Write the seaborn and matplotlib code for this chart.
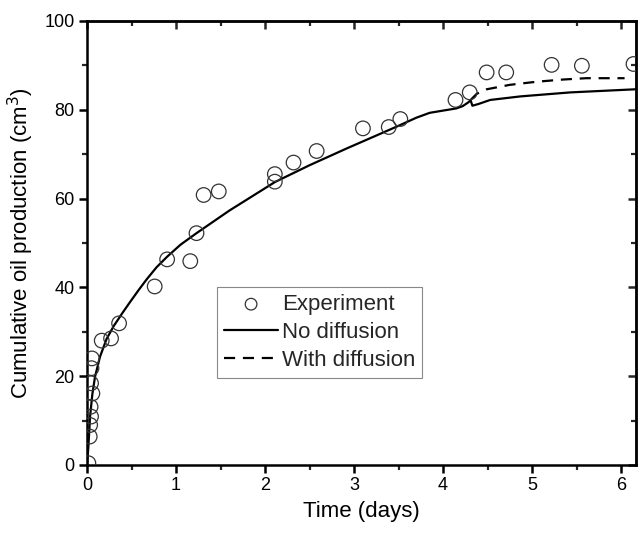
import numpy as np
import pandas as pd
import matplotlib
matplotlib.use("Agg")
import matplotlib.pyplot as plt
import seaborn as sns
from matplotlib.ticker import MultipleLocator

# Experimental data
exp_time = [0.015, 0.03, 0.035, 0.045, 0.04, 0.06, 0.045, 0.05, 0.055, 0.165, 0.27, 0.36,
            0.76, 0.90, 1.16, 1.23, 1.31, 1.48, 2.11, 2.11, 2.32, 2.58, 3.10, 3.39, 3.52,
            4.14, 4.30, 4.49, 4.71, 5.22, 5.56, 6.14]
exp_oil = [0.4, 6.4, 9.0, 10.9, 13.1, 16.1, 18.4, 21.8, 24.0, 28.0, 28.5, 31.9,
           40.2, 46.3, 45.9, 52.2, 60.8, 61.6, 63.8, 65.5, 68.1, 70.7, 75.8, 76.1, 77.9,
           82.2, 83.9, 88.4, 88.4, 90.1, 89.9, 90.3]

# Model: no diffusion
nd_time = [0.0, 0.015, 0.034, 0.06, 0.09, 0.146, 0.22, 0.30, 0.40, 0.48, 0.58, 0.67, 0.78,
           0.90, 1.05, 1.23, 1.6, 2.11, 2.5, 2.92, 3.48, 3.70, 3.85, 4.15, 4.22, 4.28,
           4.31, 4.33, 4.40, 4.53, 4.87, 5.43, 6.16]
nd_oil = [0.0, 4.1, 10.9, 16.0, 19.9, 24.4, 28.4, 31.3, 34.3, 36.6, 39.4, 41.8, 44.5,
          46.9, 49.6, 52.2, 57.3, 63.7, 67.5, 71.3, 76.2, 78.2, 79.3, 80.3, 80.8, 81.6,
          82.1, 80.9, 81.3, 82.2, 83.0, 83.9, 84.6]

# Model: with diffusion (deviates after ~4.3 days)
wd_time = [4.31, 4.38, 4.49, 4.75, 5.05, 5.35, 5.61, 6.04]
wd_oil = [82.2, 83.6, 84.6, 85.6, 86.3, 86.8, 87.1, 87.1]

sns.set_theme(style="white")
plt.rcParams['font.family'] = ['Liberation Sans', 'DejaVu Sans']

fig = plt.figure(figsize=(6.4, 5.36), dpi=100)
ax = fig.add_axes([0.136, 0.1325, 0.858, 0.8285])

df_exp = pd.DataFrame({"t": exp_time, "oil": exp_oil})
df_nd = pd.DataFrame({"t": nd_time, "oil": nd_oil})
df_wd = pd.DataFrame({"t": wd_time, "oil": wd_oil})

sns.lineplot(data=df_nd, x="t", y="oil", sort=False, estimator=None, ax=ax,
             color="black", lw=1.6, label="No diffusion")
sns.lineplot(data=df_wd, x="t", y="oil", sort=False, estimator=None, ax=ax,
             color="black", lw=1.6, linestyle=(0, (5, 3.5)), label="With diffusion")
sns.scatterplot(data=df_exp, x="t", y="oil", ax=ax, marker="o", s=110,
                facecolor="none", edgecolor="#333333", linewidth=0.9,
                label="Experiment", zorder=3)

ax.set_xlim(0, 6.17)
ax.set_ylim(0, 100)
ax.xaxis.set_major_locator(MultipleLocator(1))
ax.xaxis.set_minor_locator(MultipleLocator(0.5))
ax.yaxis.set_major_locator(MultipleLocator(20))
ax.yaxis.set_minor_locator(MultipleLocator(10))

for sp in ax.spines.values():
    sp.set_visible(True)
    sp.set_color("black")
    sp.set_linewidth(1.8)

ax.tick_params(which="major", direction="out", length=6, width=1.8, labelsize=13,
               colors="black", bottom=True, left=True, pad=3)
ax.tick_params(which="minor", direction="out", length=3.5, width=1.6,
               bottom=True, left=True)

# Inward ticks on top and right, no labels
secx = ax.secondary_xaxis("top")
secx.xaxis.set_major_locator(MultipleLocator(1))
secx.xaxis.set_minor_locator(MultipleLocator(0.5))
secx.tick_params(which="major", direction="in", length=6, width=1.8, labeltop=False)
secx.tick_params(which="minor", direction="in", length=3.5, width=1.6)
secx.spines["top"].set_linewidth(1.8)
secy = ax.secondary_yaxis("right")
secy.yaxis.set_major_locator(MultipleLocator(20))
secy.yaxis.set_minor_locator(MultipleLocator(10))
secy.tick_params(which="major", direction="in", length=6, width=1.8, labelright=False)
secy.tick_params(which="minor", direction="in", length=3.5, width=1.6)
secy.spines["right"].set_linewidth(1.8)

ax.set_xlabel("Time (days)", fontsize=16, color="black", labelpad=5)
ax.set_ylabel("Cumulative oil production (cm$^3$)", fontsize=16, color="black", labelpad=6)

handles, labels = ax.get_legend_handles_labels()
order = [labels.index("Experiment"), labels.index("No diffusion"), labels.index("With diffusion")]
leg = ax.legend([handles[i] for i in order], [labels[i] for i in order],
                loc="upper left", bbox_to_anchor=(0.237, 0.40), fontsize=16,
                frameon=True, fancybox=False, edgecolor="#888888", framealpha=1,
                handlelength=2.45, handletextpad=0.15, borderpad=0.3, labelspacing=0.32,
                borderaxespad=0, markerscale=0.8)
leg.get_frame().set_linewidth(0.8)

fig.savefig("out.png", dpi=100)
